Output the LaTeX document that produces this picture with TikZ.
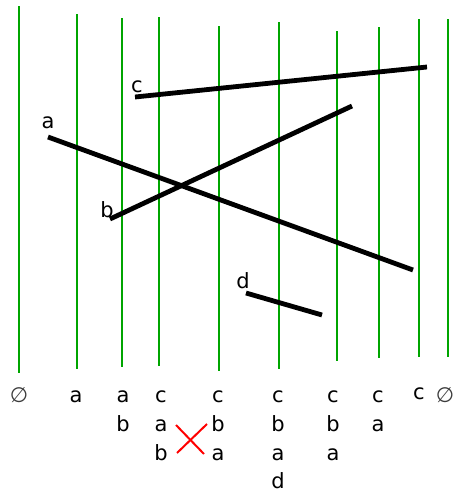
\documentclass[tikz,border=0pt]{standalone}
\usepackage{fontspec}
\setmainfont{DejaVu Sans}
\begin{document}
\begin{tikzpicture}[x=1pt,y=-1pt,
  sweep/.style={draw={rgb,255:red,0;green,165;blue,0},line width=2.6pt},
  seg/.style={draw=black,line width=4.8pt},
  lbl/.style={font=\fontsize{21}{21}\selectfont,anchor=base,inner sep=0pt},
  emptyset/.style={lbl,text={rgb,255:red,60;green,60;blue,60}},
  swapmark/.style={draw=red,line width=2pt}]
\useasboundingbox (0,0) rectangle (454,493);
% sweep lines
\foreach \x/\t/\b in {19/6/373,77/14/369,122/18/367,159/17/366,219/26/371,279/22/369,337/31/361,379/27/358,419/19/357,448/19/357}{
  \draw[sweep] (\x,\t) -- (\x,\b);
}
% segments
\coordinate (c1) at (135,97);  \coordinate (c2) at (427,67);
\coordinate (a1) at (48,137);  \coordinate (a2) at (413,270);
\coordinate (b1) at (110,219); \coordinate (b2) at (352,106);
\coordinate (d1) at (246,293); \coordinate (d2) at (322,315);
\draw[seg] (c1) -- (c2);
\draw[seg] (a1) -- (a2);
\draw[seg] (b1) -- (b2);
\draw[seg] (d1) -- (d2);
\node[lbl] (lc) at (137,92) {c};
\node[lbl] (la) at (48,128) {a};
\node[lbl] (lb) at (107,217) {b};
\node[lbl] (ld) at (243,288) {d};
% status lists
\node[emptyset] (e1) at (19,402) {∅};
\node[lbl] (s2a) at (76,402) {a};
\node[lbl] (s3a) at (123,402) {a};
\node[lbl] (s3b) at (123,431) {b};
\node[lbl] (s4c) at (161,402) {c};
\node[lbl] (s4a) at (161,431) {a};
\node[lbl] (s4b) at (161,460) {b};
\node[lbl] (s5c) at (218,402) {c};
\node[lbl] (s5b) at (218,431) {b};
\node[lbl] (s5a) at (218,460) {a};
\node[lbl] (s6c) at (278,402) {c};
\node[lbl] (s6b) at (278,431) {b};
\node[lbl] (s6a) at (278,460) {a};
\node[lbl] (s6d) at (278,488) {d};
\node[lbl] (s7c) at (333,402) {c};
\node[lbl] (s7b) at (333,431) {b};
\node[lbl] (s7a) at (333,460) {a};
\node[lbl] (s8c) at (378,402) {c};
\node[lbl] (s8a) at (378,431) {a};
\node[lbl] (s9c) at (419,399) {c};
\node[emptyset] (e2) at (445,402) {∅};
% swap mark
\coordinate (x1) at (176,425); \coordinate (x2) at (204,454);
\coordinate (x3) at (207,424); \coordinate (x4) at (177,453);
\draw[swapmark] (x1) -- (x2);
\draw[swapmark] (x3) -- (x4);
\end{tikzpicture}
\end{document}
